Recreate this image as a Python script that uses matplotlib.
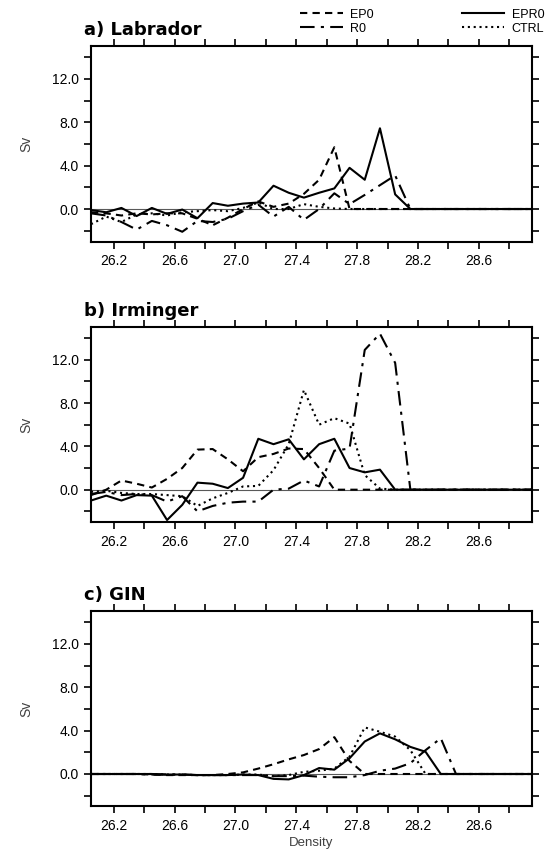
import matplotlib
matplotlib.use("Agg")
import matplotlib.pyplot as plt
import numpy as np

plt.rcParams['font.family'] = ['Liberation Sans', 'DejaVu Sans']

# density bin centres 26.05 ... 28.95
density = np.round(np.arange(26.05, 28.96, 0.1), 2)

panels = ["a) Labrador", "b) Irminger", "c) GIN"]

# a) Labrador
lab_epr0 = [-0.1, -0.3, 0.1, -0.65, 0.1, -0.45, -0.05, -0.85, 0.55, 0.3,
            0.5, 0.6, 2.15, 1.5, 1.05, 1.5, 1.9, 3.8, 2.7, 7.45,
            1.35, 0, 0, 0, 0, 0, 0, 0, 0, 0]
lab_ep0 = [-0.3, -0.4, -0.6, -0.4, -0.5, -0.4, -0.4, -0.9, -1.5, -0.8,
           0.0, 0.7, 0.2, 0.5, 1.4, 2.7, 5.7, 0, 0, 0,
           0, 0, 0, 0, 0, 0, 0, 0, 0, 0]
lab_r0 = [-0.4, -0.6, -1.2, -1.9, -1.1, -1.5, -2.1, -1.1, -1.2, -0.9,
          -0.2, 0.4, -0.7, 0.2, -1.0, 0.0, 1.45, 0.45, 1.3, 2.2,
          3.1, 0, 0, 0, 0, 0, 0, 0, 0, 0]
lab_ctrl = [-1.4, -0.7, -1.2, -0.5, -0.4, -0.6, -0.3, -0.2, -0.1, -0.2,
            0.1, 0.6, 0.0, 0.0, 0.45, 0.2, 0.05, 0, 0, 0,
            0, 0, 0, 0, 0, 0, 0, 0, 0, 0]

# b) Irminger
irm_epr0 = [-1.0, -0.55, -1.0, -0.5, -0.55, -2.8, -1.4, 0.65, 0.55, 0.15,
            1.1, 4.7, 4.2, 4.65, 2.8, 4.2, 4.7, 2.0, 1.6, 1.85,
            0, 0, 0, 0, 0, 0, 0, 0, 0, 0]
irm_ep0 = [-0.5, 0.0, 0.85, 0.55, 0.2, 1.0, 2.0, 3.7, 3.75, 2.8,
           1.7, 3.0, 3.3, 3.8, 3.75, 2.0, 0, 0, 0, 0,
           0, 0, 0, 0, 0, 0, 0, 0, 0, 0]
irm_r0 = [-0.4, -0.2, -0.5, -0.4, -0.5, -1.1, -0.6, -2.0, -1.5, -1.2,
          -1.1, -1.1, 0.0, 0.1, 0.85, 0.3, 3.6, 3.8, 12.9, 14.4,
          11.7, 0, 0, 0, 0, 0, 0, 0, 0, 0]
irm_ctrl = [-0.2, -0.1, -0.3, -0.4, -0.4, -0.5, -0.6, -1.5, -0.8, -0.3,
            0.3, 0.35, 1.8, 4.2, 9.2, 6.0, 6.6, 6.1, 1.35, 0.1,
            0, 0, 0, 0, 0, 0, 0, 0, 0, 0]

# c) GIN
gin_epr0 = [0, 0, 0, 0, 0, -0.05, -0.05, -0.1, -0.1, -0.1,
            -0.05, -0.1, -0.45, -0.5, -0.1, 0.55, 0.4, 1.45, 3.0, 3.75,
            3.2, 2.5, 2.05, 0, 0, 0, 0, 0, 0, 0]
gin_ep0 = [0, 0, 0, 0, -0.05, -0.1, -0.1, -0.1, -0.1, 0.0,
           0.15, 0.5, 0.9, 1.35, 1.75, 2.3, 3.4, 1.2, 0, 0,
           0, 0, 0, 0, 0, 0, 0, 0, 0, 0]
gin_r0 = [0, 0, 0, 0, -0.05, -0.05, -0.05, -0.1, -0.1, -0.1,
          -0.1, -0.1, -0.2, -0.2, -0.15, -0.25, -0.3, -0.3, -0.1, 0.3,
          0.5, 1.0, 2.2, 3.3, 0, 0, 0, 0, 0, 0]
gin_ctrl = [0, 0, 0, 0, 0, -0.05, -0.05, -0.1, -0.1, -0.1,
            -0.05, -0.05, -0.2, -0.1, 0.2, 0.3, 0.5, 1.6, 4.3, 3.9,
            3.45, 2.2, 0, 0, 0, 0, 0, 0, 0, 0]

series_names = ["EP0", "R0", "EPR0", "CTRL"]
styles = {
    "EP0": (0, (3.5, 2.5)),
    "R0": (0, (7, 3, 1.5, 3)),
    "EPR0": "-",
    "CTRL": (0, (1, 1.8)),
}
data = [
    {"EP0": lab_ep0, "R0": lab_r0, "EPR0": lab_epr0, "CTRL": lab_ctrl},
    {"EP0": irm_ep0, "R0": irm_r0, "EPR0": irm_epr0, "CTRL": irm_ctrl},
    {"EP0": gin_ep0, "R0": gin_r0, "EPR0": gin_epr0, "CTRL": gin_ctrl},
]

xticks = np.round(np.arange(26.2, 28.81, 0.2), 1)
xlabels = ["%.1f" % v if i % 2 == 0 else "" for i, v in enumerate(xticks)]
yticks = np.arange(-2, 14.1, 2)
ylabels = ["%.1f" % v if v % 4 == 0 else "" for v in yticks]

fig = plt.figure(figsize=(5.55, 8.61), dpi=100)
bottoms = [0.7195, 0.3935, 0.0633]
handles = {}
for k in range(3):
    ax = fig.add_axes([0.164, bottoms[k], 0.7946, 0.2265])
    ax.axhline(0, color="0.35", lw=0.8, zorder=1)
    for name in series_names:
        ln, = ax.plot(density, data[k][name], color="black", lw=1.5,
                      linestyle=styles[name], label=name, zorder=2)
        handles[name] = ln
    ax.set_xlim(26.05, 28.95)
    ax.set_ylim(-3, 15)
    ax.set_xticks(xticks)
    ax.set_xticklabels(xlabels)
    ax.set_yticks(yticks)
    ax.set_yticklabels(ylabels)
    ax.tick_params(direction="out", length=5, width=1.2, top=True, right=True,
                   labelsize=10, pad=4, colors="black")
    for sp in ax.spines.values():
        sp.set_linewidth(1.5)
    ax.set_ylabel("Sv", fontsize=10, color="0.25", labelpad=13)
    ax.text(-0.015, 1.085, panels[k], transform=ax.transAxes, fontsize=13,
            fontweight="bold", ha="left", va="center", family="DejaVu Sans")
    if k == 2:
        ax.set_xlabel("Density", fontsize=9.5, color="0.25", labelpad=3)

fig.legend([handles[n] for n in series_names], series_names,
           loc="upper left", bbox_to_anchor=(0.53, 0.997), ncol=2,
           frameon=False, fontsize=9, handlelength=3.4, handletextpad=0.6,
           columnspacing=7.0, labelspacing=0.15, borderpad=0)

fig.savefig("out.png", dpi=100)
